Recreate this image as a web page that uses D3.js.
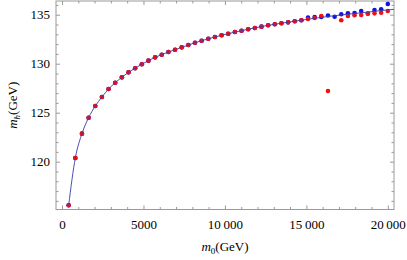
<!DOCTYPE html>
<html>
<head>
<meta charset="utf-8">
<script src="https://cdn.jsdelivr.net/npm/d3@7"></script>
<style>
  body { margin: 0; background: #fff; }
  text { font-family: "Liberation Serif", "DejaVu Serif", serif; }
</style>
</head>
<body>
<div class="chart"></div>
<script>
// m0 grid (GeV)
const m0Values = [408, 816, 1224, 1633, 2041, 2449, 2857, 3265, 3673, 4082,
  4490, 4898, 5306, 5714, 6122, 6531, 6939, 7347, 7755, 8163,
  8571, 8980, 9388, 9796, 10204, 10612, 11020, 11429, 11837, 12245,
  12653, 13061, 13469, 13878, 14286, 14694, 15102, 15510, 15918, 16327,
  16735, 17143, 17551, 17959, 18367, 18776, 19184, 19592, 20000]

// mh, red series (null = not shown)
const mhRed = [115.55, 120.38, 122.86, 124.49, 125.68, 126.6, 127.42, 128.06, 128.61, 129.12,
  129.53, 129.94, 130.31, 130.65, 130.92, 131.19, 131.43, 131.67, 131.91, 132.14,
  132.35, 132.55, 132.72, 132.9, 133.06, 133.23, 133.37, 133.52, 133.64, 133.78,
  133.93, 134.03, 134.13, 134.22, 134.34, 134.44, 134.56, 134.67, 134.87, 127.22,
  null, 134.43, 134.87, 134.94, 134.97, 135.1, 135.14, 135.2, 135.38]

// mh, blue series
const mhBlue = [115.55, 120.38, 122.86, 124.49, 125.68, 126.6, 127.42, 128.06, 128.61, 129.12,
  129.53, 129.94, 130.31, 130.65, 130.92, 131.19, 131.43, 131.67, 131.91, 132.14,
  132.35, 132.55, 132.72, 132.9, 133.06, 133.23, 133.37, 133.52, 133.64, 133.78,
  133.93, 134.03, 134.13, 134.22, 134.34, 134.44, 134.72, 134.76, 134.76, 134.92,
  134.79, 135.05, 135.14, 135.17, 135.38, 135.12, 135.48, 135.55, 136.09]

// fitted curve
const fitM0 = [408, 816, 1224, 1633, 2041, 2449, 2857, 3265, 4082, 4898,
  5714, 6531, 7347, 8163, 9796, 11429, 13061, 14694, 16327, 17959, 19592, 20380]
const fitMh = [115.55, 120.38, 122.86, 124.49, 125.68, 126.6, 127.42, 128.06, 129.12, 129.94,
  130.65, 131.19, 131.67, 132.14, 132.9, 133.52, 134.03, 134.44, 134.82, 135.12, 135.42, 135.55]

const xTicks = [0, 5000, 10000, 15000, 20000]
const yTicks = [120, 125, 130, 135]

const dims = { width: 407, height: 260, left: 56, right: 394, top: 1, bottom: 209.5 }
const colors = { frame: "#9a9a9a", red: "#f01010", blue: "#1010e8", line: "#3a3aa8" }

const xScale = d3.scaleLinear().domain([-370, 20380]).range([dims.left, dims.right])
const yScale = d3.scaleLinear().domain([115.12, 136.4]).range([dims.bottom, dims.top])

const svg = d3.select(".chart").append("svg")
  .attr("width", dims.width)
  .attr("height", dims.height)

const fmtX = d => d >= 10000 ? d3.format("d")(d).replace(/(\d{2})(\d{3})/, "$1\u2009$2") : d3.format("d")(d)
const xMinor = d3.range(1000, 20001, 1000).filter(d => d % 5000 !== 0)
const yMinor = d3.range(116, 137, 1).filter(d => d % 5 !== 0)

const styleAxis = g => {
  g.select(".domain").remove()
  g.selectAll(".tick line").attr("stroke", colors.frame)
  g.selectAll(".tick text").attr("fill", "#000").style("font-size", "13px")
    .style("font-family", "'Liberation Serif', serif")
}

// bottom
svg.append("g").attr("transform", `translate(0,${dims.bottom})`)
  .call(d3.axisBottom(xScale).tickValues(xTicks).tickFormat(fmtX).tickSize(-4).tickPadding(10))
  .call(styleAxis)
svg.append("g").attr("transform", `translate(0,${dims.bottom})`)
  .call(d3.axisBottom(xScale).tickValues(xMinor).tickFormat("").tickSize(-2.5))
  .call(styleAxis)
// top
svg.append("g").attr("transform", `translate(0,${dims.top})`)
  .call(d3.axisTop(xScale).tickValues(xTicks).tickFormat("").tickSize(-4))
  .call(styleAxis)
svg.append("g").attr("transform", `translate(0,${dims.top})`)
  .call(d3.axisTop(xScale).tickValues(xMinor).tickFormat("").tickSize(-2.5))
  .call(styleAxis)
// left
svg.append("g").attr("transform", `translate(${dims.left},0)`)
  .call(d3.axisLeft(yScale).tickValues(yTicks).tickFormat(d3.format("d")).tickSize(-4).tickPadding(6))
  .call(styleAxis)
svg.append("g").attr("transform", `translate(${dims.left},0)`)
  .call(d3.axisLeft(yScale).tickValues(yMinor).tickFormat("").tickSize(-2.5))
  .call(styleAxis)
// right
svg.append("g").attr("transform", `translate(${dims.right},0)`)
  .call(d3.axisRight(yScale).tickValues(yTicks).tickFormat("").tickSize(-4))
  .call(styleAxis)
svg.append("g").attr("transform", `translate(${dims.right},0)`)
  .call(d3.axisRight(yScale).tickValues(yMinor).tickFormat("").tickSize(-2.5))
  .call(styleAxis)

// frame
svg.append("rect")
  .attr("x", dims.left).attr("y", dims.top)
  .attr("width", dims.right - dims.left).attr("height", dims.bottom - dims.top)
  .attr("fill", "none").attr("stroke", colors.frame).attr("stroke-width", 1)

const plot = svg.append("g")

plot.selectAll(".blue")
  .data(m0Values.map((m, i) => [m, mhBlue[i]]).filter(d => d[1] != null))
  .join("circle")
    .attr("class", "blue")
    .attr("cx", d => xScale(d[0]))
    .attr("cy", d => yScale(d[1]))
    .attr("r", 2.3)
    .attr("fill", colors.blue)

plot.selectAll(".red")
  .data(m0Values.map((m, i) => [m, mhRed[i]]).filter(d => d[1] != null))
  .join("circle")
    .attr("class", "red")
    .attr("cx", d => xScale(d[0]))
    .attr("cy", d => yScale(d[1]))
    .attr("r", 2.3)
    .attr("fill", colors.red)

const lineGenerator = d3.line()
  .x(d => xScale(d[0]))
  .y(d => yScale(d[1]))
  .curve(d3.curveMonotoneX)

plot.append("path")
  .attr("d", lineGenerator(fitM0.map((m, i) => [m, fitMh[i]])))
  .attr("fill", "none")
  .attr("stroke", colors.line)
  .attr("stroke-width", 0.9)

// axis labels
const xLabel = svg.append("text")
  .attr("x", (dims.left + dims.right) / 2)
  .attr("y", 251)
  .attr("text-anchor", "middle")
  .style("font-size", "13px")
xLabel.append("tspan").style("font-style", "italic").text("m")
xLabel.append("tspan").attr("dy", 3).style("font-size", "9px").text("0")
xLabel.append("tspan").attr("dy", -3).text("(GeV)")

const yLabel = svg.append("text")
  .attr("transform", `translate(17,${(dims.top + dims.bottom) / 2}) rotate(-90)`)
  .attr("text-anchor", "middle")
  .style("font-size", "13px")
yLabel.append("tspan").style("font-style", "italic").text("m")
yLabel.append("tspan").attr("dy", 3).style("font-size", "9px").style("font-style", "italic").text("h")
yLabel.append("tspan").attr("dy", -3).text("(GeV)")
</script>
</body>
</html>
